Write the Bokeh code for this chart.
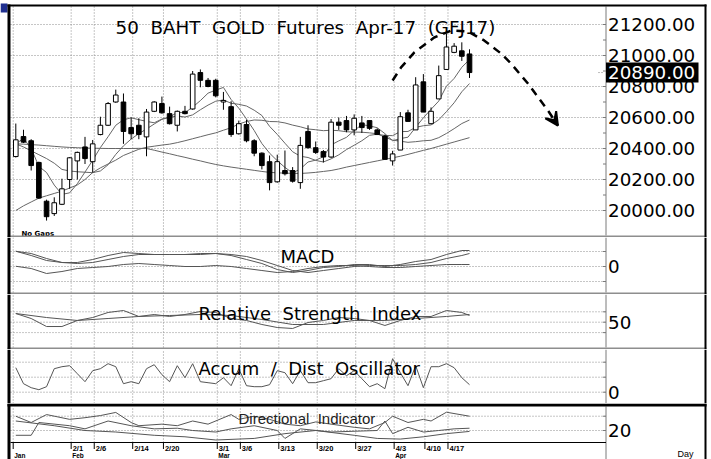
from bokeh.plotting import figure
from bokeh.models import Range1d, Arrow, VeeHead
from bokeh.layouts import column
from bokeh.embed import file_html
from bokeh.resources import INLINE
from bokeh.core.properties import value

# ---------------- data ----------------
dates = ["1/23", "1/24", "1/25", "1/26", "1/27", "1/30", "1/31",
         "2/1", "2/2", "2/3", "2/6", "2/7", "2/8", "2/9", "2/10", "2/14", "2/15", "2/16", "2/17",
         "2/20", "2/21", "2/22", "2/23", "2/24", "2/27", "2/28",
         "3/1", "3/2", "3/3", "3/6", "3/7", "3/8", "3/9", "3/10", "3/13", "3/14", "3/15", "3/16",
         "3/17", "3/20", "3/21", "3/22", "3/23", "3/24", "3/27", "3/28", "3/29", "3/30", "3/31",
         "4/3", "4/4", "4/5", "4/7", "4/10", "4/11", "4/12", "4/17", "4/18", "4/19", "4/20"]
tick_labels = ["2/1", "2/6", "2/14", "2/20", "3/1", "3/6", "3/13", "3/20", "3/27", "4/3", "4/10", "4/17"]
month_labels = ["Jan", "Feb", "Mar", "Apr"]
month_dates = ["2/1", "3/1", "4/3"]          # "Jan" sits at the axis start

opens = [20348, 20477, 20450, 20310, 20060, 19980, 20040, 20200, 20320, 20410,
         20315, 20490, 20550, 20700, 20700, 20535, 20550, 20475, 20640, 20690,
         20625, 20550, 20640, 20655, 20890, 20840, 20840, 20700, 20670, 20495,
         20555, 20450, 20370, 20315, 20185, 20258, 20258, 20180, 20510, 20405,
         20380, 20345, 20570, 20580, 20520, 20565, 20580, 20520, 20480, 20320,
         20390, 20630, 20520, 20830, 20560, 20720, 20910, 21020, 21030, 21010]
highs = [20561, 20521, 20460, 20315, 20070, 20085, 20205, 20345, 20380, 20475,
         20455, 20605, 20700, 20780, 20755, 20600, 20595, 20655, 20705, 20735,
         20670, 20645, 20675, 20900, 20910, 20855, 20850, 20765, 20705, 20580,
         20585, 20460, 20375, 20355, 20360, 20387, 20280, 20475, 20550, 20445,
         20390, 20590, 20600, 20610, 20620, 20610, 20580, 20530, 20490, 20385,
         20635, 20650, 20860, 20880, 20665, 20935, 21140, 21080, 21085, 21040]
lows = [20342, 20435, 20258, 20075, 19935, 19965, 20035, 20140, 20200, 20300,
        20245, 20485, 20545, 20695, 20430, 20460, 20460, 20350, 20635, 20625,
        20555, 20510, 20620, 20650, 20795, 20795, 20730, 20650, 20475, 20490,
        20440, 20350, 20265, 20130, 20180, 20226, 20180, 20140, 20400, 20365,
        20310, 20340, 20520, 20505, 20485, 20500, 20520, 20490, 20330, 20290,
        20390, 20575, 20520, 20635, 20560, 20720, 20910, 21015, 20965, 20855]
closes = [20456, 20441, 20290, 20080, 19960, 20050, 20140, 20340, 20375, 20335,
          20430, 20550, 20690, 20745, 20510, 20495, 20490, 20635, 20700, 20630,
          20560, 20640, 20625, 20880, 20840, 20800, 20740, 20710, 20490, 20560,
          20450, 20370, 20290, 20180, 20315, 20237, 20189, 20420, 20405, 20375,
          20345, 20570, 20550, 20520, 20595, 20535, 20530, 20490, 20330, 20365,
          20605, 20575, 20810, 20635, 20640, 20870, 21055, 21060, 20995, 20890]

ma_fast = [20430, 20465, 20400, 20285, 20245, 20164, 20104, 20114, 20173, 20248,
           20324, 20406, 20476, 20550, 20585, 20598, 20586, 20575, 20566, 20590,
           20603, 20633, 20631, 20667, 20709, 20757, 20777, 20794, 20716, 20660,
           20590, 20516, 20432, 20370, 20321, 20278, 20242, 20268, 20313, 20325,
           20347, 20423, 20449, 20472, 20516, 20554, 20546, 20534, 20496, 20450,
           20464, 20473, 20537, 20598, 20653, 20706, 20802, 20852, 20924, 20974]
ma_mid = [20430, 20410, 20385, 20360, 20335, 20305, 20265, 20255, 20250, 20247,
          20244, 20255, 20295, 20362, 20417, 20461, 20496, 20526, 20558, 20588,
          20601, 20610, 20603, 20617, 20650, 20680, 20705, 20713, 20692, 20685,
          20674, 20647, 20613, 20543, 20491, 20434, 20379, 20350, 20342, 20323,
          20313, 20333, 20359, 20393, 20421, 20450, 20485, 20492, 20484, 20483,
          20509, 20510, 20536, 20547, 20552, 20585, 20638, 20695, 20766, 20819]
ma_slow = [20000, 20030, 20055, 20080, 20095, 20110, 20125, 20145, 20165, 20200,
           20245, 20275, 20300, 20325, 20355, 20375, 20395, 20408, 20415, 20422,
           20428, 20438, 20450, 20463, 20476, 20489, 20501, 20518, 20534, 20558,
           20574, 20584, 20582, 20574, 20573, 20565, 20551, 20540, 20526, 20521,
           20515, 20518, 20515, 20508, 20506, 20505, 20501, 20495, 20473, 20454,
           20447, 20440, 20444, 20450, 20453, 20470, 20497, 20528, 20561, 20584]
ma_long = [20430, 20428, 20425, 20422, 20418, 20414, 20410, 20407, 20405, 20403,
           20402, 20401, 20400, 20400, 20400, 20400, 20401, 20400, 20389, 20377,
           20366, 20354, 20343, 20331, 20320, 20308, 20297, 20288, 20280, 20273,
           20266, 20259, 20252, 20246, 20243, 20241, 20240, 20239, 20242, 20246,
           20252, 20258, 20268, 20280, 20290, 20300, 20310, 20320, 20330, 20340,
           20350, 20362, 20375, 20388, 20400, 20414, 20428, 20442, 20456, 20470]

# hand-drawn forecast arc (day index, price)
arc_x = [49.0, 50.1, 51.8, 54.4, 56.6, 58.8, 60.9, 63.1, 64.4, 66.6, 69.2, 70.5]
arc_y = [20839, 20923, 21019, 21116, 21161, 21155, 21097, 21013, 20948, 20819, 20645, 20548]

price_ticks = [20000, 20200, 20400, 20600, 20800, 21000, 21200]
price_minor = [20100, 20300, 20500, 20700, 20900, 21100]

macd_x = [0, 2, 4, 6, 8, 10, 12, 14, 16, 18, 20, 22, 24, 26, 28, 30, 32, 34, 36, 38, 40, 42, 44, 46, 48, 50, 52, 54, 56, 58, 59]
macd_a = [61, 44, 24, 16, 16, 28, 44, 56, 52, 48, 48, 48, 52, 52, 44, 28, 12, -12, -24, -16, -4, 0, 8, 8, 0, 8, 20, 28, 48, 64, 64]
macd_b = [61, 52, 32, 16, 12, 16, 28, 40, 48, 48, 48, 48, 48, 52, 48, 40, 24, 4, -16, -24, -16, -8, 0, 4, 4, 4, 8, 16, 32, 44, 52]
macd_c = [1, -8, -28, -20, -8, -4, 0, 8, 12, 8, 4, 0, 0, 4, 0, -8, -16, -24, -20, -8, 0, 4, 4, 0, -4, -4, 0, 4, 8, 8, 8]

rsi_x = [0, 2, 4, 6, 8, 10, 12, 14, 16, 18, 20, 22, 24, 26, 28, 30, 32, 34, 36, 38, 40, 42, 44, 46, 48, 50, 52, 54, 56, 58, 59]
rsi_a = [66.7, 57.1, 41.7, 41.7, 53.3, 59.0, 68.7, 72.5, 61.0, 64.8, 61.0, 64.8, 70.6, 68.7, 57.1, 53.3,
         45.6, 39.8, 37.9, 49.4, 53.3, 59.0, 57.1, 53.3, 43.7, 53.3, 61.0, 61.0, 72.5, 68.7, 62.9]
rsi_sx = [0, 4, 8, 12, 16, 20, 24, 28, 32, 36, 40, 44, 48, 52, 56, 59]
rsi_b = [66.7, 59.0, 53.3, 57.1, 61.0, 62.9, 64.8, 62.9, 55.2, 45.6, 45.6, 53.3, 53.3, 57.1, 61.0, 64.8]

ado = [49, 17, 9, 5, 11, 47, 51, 53, 37, 21, 43, 47, 57, 51, 17, 21, 17, 47, 55, 35,
       21, 53, 29, 57, 21, 19, 17, 29, 13, 47, 13, 11, 11, 15, 43, 39, 17, 43, 19, 19,
       23, 27, 47, 33, 43, 27, 11, 17, 7, 67, 39, 13, 53, 9, 51, 51, 57, 49, 29, 15]

dip_x = [0, 2, 4, 7, 9, 11, 13, 15, 16, 19, 21, 23, 25, 28, 29, 31, 33, 35, 37, 39, 41, 44, 46, 48, 49, 51, 53, 54, 56, 59]
dip = [40.0, 31.2, 42.3, 35.6, 37.9, 40.9, 45.3, 31.2, 26.7, 28.9, 26.7, 33.3, 28.9, 42.3, 35.6, 40.0, 35.6, 28.9,
       26.7, 32.0, 28.9, 24.5, 22.3, 31.2, 40.0, 31.2, 35.6, 33.3, 45.6, 40.0]
dim_x = [0, 2, 3, 7, 9, 12, 15, 18, 21, 23, 26, 28, 31, 34, 35, 37, 41, 47, 48, 49, 51, 53, 55, 57, 59]
dim = [13.3, 13.3, 31.2, 26.7, 22.3, 33.3, 26.7, 22.3, 23.2, 20.0, 17.9, 22.3, 26.7, 20.0, 8.9, 22.3, 17.9, 20.0,
       33.3, 15.6, 24.5, 17.9, 20.0, 22.3, 23.2]
adx_x = [0, 5, 9, 13, 18, 22, 26, 31, 35, 39, 44, 47, 50, 53, 56, 59]
adx = [33.3, 26.7, 20.0, 17.9, 13.3, 11.2, 6.7, 8.9, 15.6, 20.0, 13.3, 8.9, 8.0, 11.2, 15.6, 18.7]

# ---------------- geometry (page pixels) ----------------
PX = 7.69                 # pixels per trading day
X_FIRST = 15.3            # page x of the first session
FIG_W = 711


def xd(px):
    return (px - X_FIRST) / PX


X_L, X_R = xd(0), xd(FIG_W)
PLOT_L, AXIS_X = 10, 605.5
OUT_L0, OUT_L1, OUT_R0, OUT_R1 = 7, 10, 704, 706
DATE_Y = 442              # page y of the date axis line

GRID_C = "#8c8c8c"
LINE_C = "#666666"
IND_C = "#555555"
SEP_C = "#8e8e8e"
AX_C = "#7a7a7a"
NB = "\u00a0 "

idx = list(range(len(dates)))
tick_idx = [dates.index(d) + 0.2 for d in tick_labels]
jan_x = xd(12.7)
grid_x = [jan_x] + tick_idx


def lin(ref_py, ref_val, per_px):
    return lambda py: ref_val + (ref_py - py) * per_px


def panel(top, bottom, f):
    p = figure(width=FIG_W, height=bottom - top, x_range=Range1d(X_L, X_R),
               y_range=Range1d(f(bottom), f(top)), output_backend="svg", toolbar_location=None,
               x_axis_location=None, y_axis_location=None,
               min_border_left=0, min_border_right=0, min_border_top=0, min_border_bottom=0)
    p.outline_line_color = None
    p.grid.visible = False
    return p


def box(p, f, x0, x1, py0, py1, color):
    p.quad(left=[xd(x0)], right=[xd(x1)], top=[f(py0)], bottom=[f(py1)],
           fill_color=color, line_color=None)


def grids(p, f, a_top, a_bot, hvals):
    n = len(grid_x)
    p.segment(x0=grid_x, x1=grid_x, y0=[f(a_bot)] * n, y1=[f(a_top)] * n,
              line_color=GRID_C, line_width=1, line_dash="1 2")
    k = len(hvals)
    p.segment(x0=[xd(PLOT_L)] * k, x1=[xd(AXIS_X)] * k, y0=hvals, y1=hvals,
              line_color=GRID_C, line_width=1, line_dash="1 2")


def axis(p, f, a_top, a_bot, ticks, labels, minor=()):
    p.segment(x0=[xd(AXIS_X)], x1=[xd(AXIS_X)], y0=[f(a_bot)], y1=[f(a_top)], line_color=AX_C)
    allt = list(ticks) + list(minor)
    k = len(allt)
    p.segment(x0=[xd(AXIS_X - 3)] * k, x1=[xd(AXIS_X)] * k, y0=allt, y1=allt, line_color=AX_C)
    p.text(x=[xd(607.5)] * len(ticks), y=ticks, text=labels, text_font=value("DejaVu Sans"),
           text_font_size=value("18.3px"), text_baseline="middle", text_align="left",
           text_color="black")


def caption(p, f, text, px, py, size="18px", font="DejaVu Sans", style="normal", color="black"):
    p.text(x=[xd(px)], y=[f(py)], text=[text], text_font=value(font), text_font_size=value(size),
           text_font_style=style, text_baseline="alphabetic", text_align="left", text_color=color)


def frame_sides(p, f, top, bottom):
    box(p, f, OUT_L0, OUT_L1, top, bottom, "black")
    box(p, f, OUT_R0, OUT_R1, top, bottom, "black")


# ---------------- price panel: page 0..237 ----------------
fp = lin(210, 20000, 1 / 0.155)
p1 = panel(0, 237, fp)
grids(p1, fp, 6, 235, price_ticks)
for ma in (ma_long, ma_slow, ma_mid, ma_fast):
    p1.line(idx, ma, line_color=LINE_C, line_width=1)
p1.segment(x0=idx, y0=lows, x1=idx, y1=highs, line_color="black", line_width=1)
p1.vbar(x=idx, width=0.6, top=[max(o, c) for o, c in zip(opens, closes)],
        bottom=[min(o, c) for o, c in zip(opens, closes)],
        fill_color=["white" if c >= o else "black" for o, c in zip(opens, closes)],
        line_color="black", line_width=1)
p1.line(arc_x, arc_y, line_color="black", line_width=2.5, line_dash="8 6")
p1.add_layout(Arrow(end=VeeHead(size=13, fill_color="black", line_color="black", line_width=2),
                    x_start=arc_x[-2], y_start=arc_y[-2], x_end=arc_x[-1], y_end=arc_y[-1],
                    line_alpha=0))
axis(p1, fp, 6, 235, price_ticks, [f"{t:.2f}" for t in price_ticks], price_minor)
# last-price marker on the axis
half = 10 / 0.155
p1.quad(left=[xd(AXIS_X)], right=[xd(698)], top=[closes[-1] + half], bottom=[closes[-1] - half],
        fill_color="black", line_color=None)
p1.text(x=[xd(607.5)], y=[closes[-1]], text=[f"{closes[-1]:.2f}"], text_font=value("DejaVu Sans"),
        text_font_size=value("18.3px"), text_baseline="middle", text_align="left", text_color="white")
p1.segment(x0=[xd(598)], x1=[xd(603)], y0=[closes[-1]], y1=[closes[-1]], line_color=AX_C,
           line_dash="1 2")
caption(p1, fp, NB.join(["50", "BAHT", "GOLD", "Futures", "Apr-17", "(GFJ17)"]), 115, 26.5,
        size="18.3px")
caption(p1, fp, "No Gaps", 21, 233, size="7px", style="bold")
box(p1, fp, 0, 7, 3, 12, "#1f2f8f")
box(p1, fp, OUT_L0, OUT_R1, 4, 6, "black")
box(p1, fp, OUT_L0, OUT_R1, 235, 237, SEP_C)
frame_sides(p1, fp, 4, 237)

# ---------------- MACD: page 237..294 ----------------
fm = lin(266, 0, 4)
p2 = panel(237, 294, fm)
grids(p2, fm, 237, 292, [-60, 0, 60])
for ser in (macd_c, macd_b, macd_a):
    p2.line(macd_x, ser, line_color=IND_C, line_width=1)
axis(p2, fm, 237, 292, [0], ["0"], [-60, 60])
caption(p2, fm, "MACD", 280, 256)
box(p2, fm, OUT_L0, OUT_R1, 292, 294, SEP_C)
frame_sides(p2, fm, 237, 294)

# ---------------- RSI: page 294..349 ----------------
fr = lin(321.7, 50, 1 / 0.52)
p3 = panel(294, 349, fr)
grids(p3, fr, 294, 347, [30, 50, 70])
p3.line(rsi_sx, rsi_b, line_color=IND_C, line_width=1)
p3.line(rsi_x, rsi_a, line_color=IND_C, line_width=1)
axis(p3, fr, 294, 347, [50], ["50"], [30, 70])
caption(p3, fr, NB.join(["Relative", "Strength", "Index"]), 198, 313)
box(p3, fr, OUT_L0, OUT_R1, 347, 349, SEP_C)
frame_sides(p3, fr, 294, 349)

# ---------------- A/D oscillator: page 349..403 ----------------
fa = lin(391.7, 0, 2)
p4 = panel(349, 403, fa)
grids(p4, fa, 349, 403, [0, 30, 60])
p4.line(idx, ado, line_color=IND_C, line_width=1)
axis(p4, fa, 349, 403, [0], ["0"], [30, 60])
caption(p4, fa, NB.join(["Accum", "/", "Dist", "Oscillator"]), 198, 368)
frame_sides(p4, fa, 349, 403)

# ---------------- Directional indicator: page 403..459 ----------------
fd = lin(430, 20, 1.4)
p5 = panel(403, 459, fd)
grids(p5, fd, 406, DATE_Y, [20, 40])
p5.line(adx_x, adx, line_color=IND_C, line_width=1)
p5.line(dim_x, dim, line_color=IND_C, line_width=1)
p5.line(dip_x, dip, line_color=IND_C, line_width=1)
axis(p5, fd, 406, 459, [20], ["20"], [40])
caption(p5, fd, NB.join(["Directional", "Indicator"]), 238, 417.5, size="15px", font="Liberation Sans",
        color="#222222")
# date axis
p5.segment(x0=[xd(PLOT_L)], x1=[xd(AXIS_X)], y0=[fd(DATE_Y)], y1=[fd(DATE_Y)], line_color="black")
n = len(grid_x)
p5.segment(x0=grid_x, x1=grid_x, y0=[fd(DATE_Y)] * n, y1=[fd(DATE_Y + 6.5)] * n, line_color="black")
p5.text(x=tick_idx, y=[fd(DATE_Y + 6)] * len(tick_idx), text=tick_labels, x_offset=1.5,
        text_font=value("Liberation Sans"), text_font_style="bold", text_font_size=value("7.5px"),
        text_baseline="alphabetic", text_align="left", text_color="black")
mon_x = [jan_x] + [dates.index(d) + 0.2 for d in month_dates]
p5.text(x=mon_x, y=[fd(DATE_Y + 12.5)] * 4, text=month_labels, x_offset=1,
        text_font=value("Liberation Sans"), text_font_style="bold", text_font_size=value("6.5px"),
        text_baseline="alphabetic", text_align="left", text_color="black")
p5.text(x=[xd(677)], y=[fd(453)], text=["Day"], text_font=value("Liberation Sans"),
        text_font_size=value("9px"), text_baseline="alphabetic", text_align="left", text_color="black")
box(p5, fd, OUT_L0, OUT_R1, 403, 406, "black")
frame_sides(p5, fd, 403, 459)

layout = column(p1, p2, p3, p4, p5)
open("out.html", "w").write(file_html(layout, INLINE))
